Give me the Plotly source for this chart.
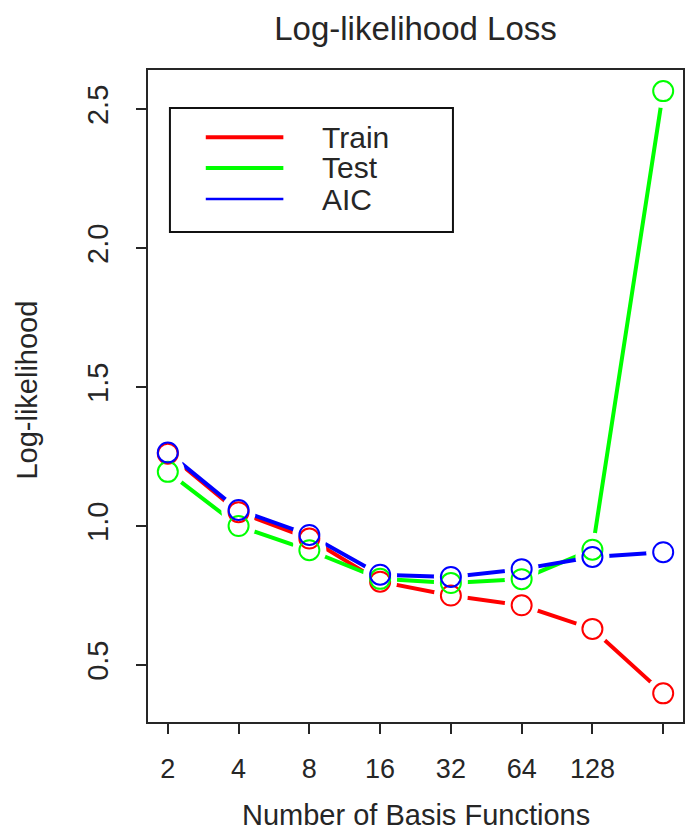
import plotly.graph_objects as go

basis = [2, 4, 8, 16, 32, 64, 128, 256]
tick_labels = ["2", "4", "8", "16", "32", "64", "128", ""]
train = [1.26, 1.05, 0.955, 0.80, 0.75, 0.715, 0.63, 0.398]
test = [1.195, 1.00, 0.913, 0.81, 0.795, 0.809, 0.915, 2.565]
aic = [1.265, 1.058, 0.968, 0.825, 0.817, 0.845, 0.889, 0.906]
series_names = ["Train", "Test", "AIC"]
y_ticks = [0.5, 1.0, 1.5, 2.0, 2.5]

colors = ["#FF0000", "#00FF00", "#0000FF"]
series = [train, test, aic]
xs = list(range(len(basis)))
FONT = "Liberation Sans, Arial, Helvetica, sans-serif"
TXT = "#262626"

fig = go.Figure()
# lines
for vals, c, n in zip(series, colors, series_names):
    fig.add_trace(go.Scatter(x=xs, y=vals, mode="lines", line=dict(color=c, width=4),
                             showlegend=False, hoverinfo="skip", name=n))
# white gaps around points (R type="b")
for vals in series:
    fig.add_trace(go.Scatter(x=xs, y=vals, mode="markers",
                             marker=dict(symbol="circle", size=34, color="white", opacity=1,
                                         line=dict(width=0)),
                             showlegend=False, hoverinfo="skip"))
# open circles
for vals, c, n in zip(series, colors, series_names):
    fig.add_trace(go.Scatter(x=xs, y=vals, mode="markers",
                             marker=dict(symbol="circle-open", size=20, color=c, line=dict(width=2, color=c)),
                             showlegend=False, name=n))

# manual legend (R style)
shapes = [dict(type="rect", xref="paper", yref="paper", x0=0.041, x1=0.570, y0=0.7515, y1=0.9417,
               line=dict(color="#111111", width=2), fillcolor="white", layer="above")]
annotations = []
rows = [0.897, 0.8497, 0.802]
lw = [4, 4, 2.5]
for yv, c, n, w in zip(rows, colors, series_names, lw):
    shapes.append(dict(type="line", xref="paper", yref="paper", x0=0.108, x1=0.253, y0=yv, y1=yv,
                       line=dict(color=c, width=w), layer="above"))
    annotations.append(dict(xref="paper", yref="paper", x=0.322, y=yv, text=n, showarrow=False,
                            xanchor="left", yanchor="middle", font=dict(family=FONT, size=30, color=TXT)))

annotations.append(dict(xref="paper", yref="paper", x=0.5, y=-0.1426, text="Number of Basis Functions",
                        showarrow=False, xanchor="center", yanchor="middle",
                        font=dict(family=FONT, size=29, color=TXT)))
annotations.append(dict(xref="paper", yref="paper", x=-0.2253, y=0.509, text="Log-likelihood",
                        showarrow=False, xanchor="center", yanchor="middle", textangle=-90,
                        font=dict(family=FONT, size=29, color=TXT)))

fig.update_layout(
    width=686, height=833,
    margin=dict(l=148, r=1, t=70, b=111),
    paper_bgcolor="white", plot_bgcolor="white",
    title=dict(text="Log-likelihood Loss", x=0.5, xref="paper", y=1 - 28 / 833, yref="container",
               xanchor="center", yanchor="middle", font=dict(family=FONT, size=33, color=TXT)),
    shapes=shapes, annotations=annotations,
    showlegend=False,
    xaxis=dict(range=[-0.28, 7.28], tickvals=xs, ticktext=tick_labels, showgrid=False, zeroline=False,
               showline=True, mirror=True, linecolor=TXT, linewidth=2,
               ticks="outside", ticklen=10, tickwidth=2, tickcolor=TXT, ticklabelstandoff=12,
               tickfont=dict(family=FONT, size=27, color=TXT)),
    yaxis=dict(range=[0.295, 2.641], tickvals=y_ticks, ticktext=[f"{v:.1f}" for v in y_ticks],
               showgrid=False, zeroline=False,
               showline=True, mirror=True, linecolor=TXT, linewidth=2,
               ticks="outside", ticklen=10, tickwidth=2, tickcolor=TXT, tickangle=-90,
               ticklabelstandoff=16,
               tickfont=dict(family=FONT, size=29, color=TXT)),
)

fig.write_html("out.html", config={"displayModeBar": False},
               post_script="document.body.style.margin='0';document.body.style.padding='0';")
